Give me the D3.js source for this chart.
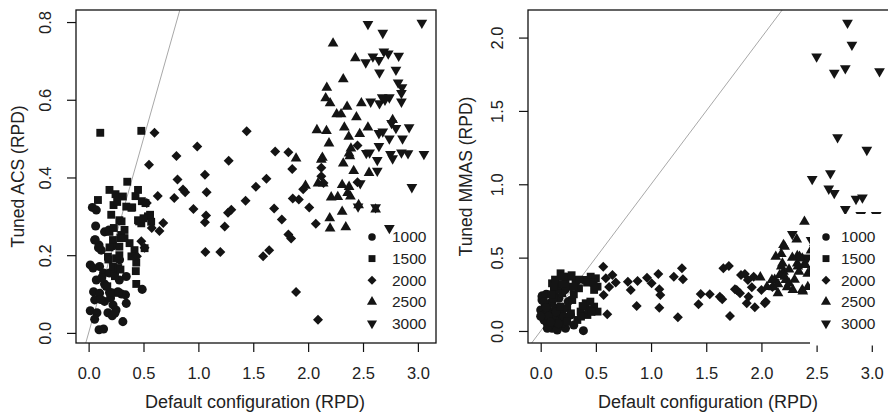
<!DOCTYPE html>
<html>
<head>
<meta charset="utf-8">
<script src="https://cdn.jsdelivr.net/npm/d3@7"></script>
<style>
  body { margin: 0; background: #fff; }
  svg text { font-family: "Liberation Sans", Arial, sans-serif; fill: #222; }
</style>
</head>
<body>
<svg id="chart" width="888" height="412"></svg>
<script>
const sizes = ["1000", "1500", "2000", "2500", "3000"];
const xTicks = [0, 0.5, 1, 1.5, 2, 2.5, 3];
const acsTicks = [0, 0.2, 0.4, 0.6, 0.8];
const mmasTicks = [0, 0.5, 1, 1.5, 2];

// ACS panel, [default, tuned] per instance size
const acs1000 = [[0.034,0.323],[0.07,0.316],[0.064,0.275],[0.145,0.26],[0.185,0.265],[0.055,0.239],[0.095,0.226],[0.115,0.213],[0.222,0.224],[0.015,0.175],[0.04,0.167],[0.10,0.171],[0.136,0.154],[0.19,0.154],[0.236,0.154],[0.07,0.136],[0.145,0.126],[0.28,0.136],[0.343,0.145],[0.045,0.106],[0.10,0.102],[0.19,0.104],[0.267,0.106],[0.336,0.098],[0.488,0.112],[0.145,0.081],[0.222,0.072],[0.055,0.085],[0.015,0.057],[0.076,0.052],[0.176,0.052],[0.25,0.059],[0.055,0.035],[0.215,0.044],[0.312,0.029],[0.095,0.008],[0.136,0.01],[0.282,0.188],[0.343,0.076],[0.24,0.051],[0.21,0.103],[0.12,0.142],[0.11,0.086],[0.06,0.24],[0.09,0.219],[0.16,0.12],[0.2,0.09],[0.3,0.1]];
const acs1500 = [[0.106,0.515],[0.48,0.52],[0.352,0.389],[0.19,0.368],[0.085,0.342],[0.245,0.357],[0.312,0.351],[0.45,0.368],[0.427,0.352],[0.227,0.329],[0.343,0.325],[0.397,0.323],[0.518,0.334],[0.54,0.30],[0.57,0.286],[0.206,0.304],[0.28,0.29],[0.45,0.29],[0.48,0.282],[0.19,0.26],[0.297,0.252],[0.327,0.244],[0.19,0.22],[0.28,0.222],[0.373,0.231],[0.418,0.213],[0.51,0.218],[0.176,0.196],[0.25,0.192],[0.434,0.181],[0.222,0.171],[0.434,0.126],[0.327,0.265],[0.222,0.239],[0.26,0.337],[0.485,0.339],[0.56,0.304],[0.46,0.287],[0.5,0.295],[0.43,0.159],[0.39,0.322],[0.30,0.287],[0.23,0.27],[0.29,0.244],[0.28,0.20],[0.39,0.197],[0.18,0.189],[0.27,0.167],[0.24,0.146],[0.2,0.103],[0.27,0.103],[0.29,0.163],[0.17,0.12]];
const acs2000 = [[0.60,0.515],[0.55,0.433],[0.63,0.352],[0.68,0.283],[0.645,0.262],[0.575,0.27],[0.53,0.334],[0.48,0.236],[0.51,0.219],[0.44,0.197],[0.80,0.455],[0.81,0.395],[0.78,0.347],[0.86,0.369],[0.88,0.362],[0.99,0.48],[0.955,0.319],[1.06,0.407],[1.075,0.362],[1.07,0.302],[1.06,0.285],[1.064,0.208],[1.276,0.443],[1.24,0.274],[1.27,0.309],[1.30,0.317],[1.20,0.208],[1.44,0.519],[1.43,0.34],[1.524,0.376],[1.62,0.397],[1.59,0.197],[1.645,0.213],[1.70,0.467],[1.69,0.32],[1.76,0.292],[1.82,0.465],[1.855,0.422],[1.86,0.346],[1.915,0.343],[1.82,0.253],[1.845,0.243],[1.89,0.105],[2.01,0.323],[2.07,0.281],[2.09,0.034],[2.12,0.425],[2.14,0.386],[2.45,0.388],[2.45,0.482],[1.955,0.37],[2.12,0.403]];
const acs2500 = [[2.227,0.745],[2.43,0.707],[2.32,0.653],[2.17,0.631],[2.16,0.604],[2.20,0.591],[2.355,0.582],[2.485,0.591],[2.26,0.563],[2.30,0.563],[2.44,0.555],[2.08,0.522],[2.167,0.52],[2.33,0.529],[2.77,0.548],[2.545,0.529],[2.47,0.512],[2.37,0.505],[2.19,0.488],[2.373,0.462],[2.13,0.451],[2.32,0.436],[1.89,0.449],[2.415,0.417],[2.555,0.412],[2.137,0.385],[2.09,0.385],[1.976,0.379],[2.31,0.381],[2.373,0.376],[2.21,0.349],[2.385,0.351],[2.31,0.312],[2.197,0.295],[2.20,0.269],[2.343,0.272],[2.46,0.329],[2.615,0.318],[2.39,0.475],[2.38,0.455],[2.12,0.446],[2.27,0.35],[2.36,0.36]];
const acs3000 = [[2.545,0.795],[3.036,0.798],[2.68,0.772],[2.59,0.711],[2.525,0.696],[2.645,0.702],[2.69,0.724],[2.73,0.719],[2.825,0.713],[2.65,0.67],[2.80,0.677],[2.82,0.644],[2.855,0.632],[2.85,0.617],[2.85,0.595],[2.57,0.595],[2.65,0.591],[2.675,0.606],[2.74,0.606],[2.80,0.527],[2.92,0.529],[2.68,0.518],[2.645,0.514],[2.74,0.50],[2.86,0.50],[2.645,0.481],[2.56,0.464],[2.63,0.445],[2.75,0.46],[2.77,0.449],[2.85,0.464],[2.91,0.462],[3.055,0.46],[2.63,0.417],[2.475,0.385],[2.945,0.375],[2.455,0.325],[2.615,0.323],[2.74,0.27],[2.53,0.463],[2.7,0.6],[2.76,0.54]];

// MMAS panel
const mmas1000 = [[0.012,0.234],[0,0.143],[0.027,0.087],[0.058,0.052],[0.103,0.018],[0.165,0.029],[0.225,0.018],[0.149,0.075],[0.088,0.12],[0.042,0.177],[0.103,0.2],[0.18,0.109],[0.27,0.109],[0.387,0.002],[0.3,0.041],[0.058,0.155],[0.119,0.087],[0.073,0.041],[0.012,0.211],[0.134,0.155],[0.165,0.223],[0.195,0.052],[0.015,0.24],[0.03,0.075],[0.06,0.018],[0.15,0.007],[0.107,0.098],[0.198,0.075],[0.05,0.25],[0.09,0.19],[0.2,0.15],[0.25,0.2],[0.12,0.26],[0.22,0.28],[0.04,0.12],[0.03,0.2],[0.07,0.1],[0.14,0.13],[0.16,0.05],[0.21,0.1],[0.09,0.06],[0.0,0.1],[0.05,0.16]];
const mmas1500 = [[0.18,0.393],[0.225,0.336],[0.103,0.325],[0.316,0.336],[0.408,0.348],[0.453,0.37],[0.5,0.359],[0.515,0.302],[0.484,0.28],[0.347,0.291],[0.195,0.257],[0.286,0.211],[0.408,0.189],[0.484,0.166],[0.515,0.132],[0.362,0.132],[0.332,0.075],[0.24,0.063],[0.423,0.109],[0.149,0.28],[0.256,0.302],[0.18,0.166],[0.24,0.155],[0.119,0.223],[0.2,0.37],[0.15,0.31],[0.3,0.25],[0.43,0.143],[0.365,0.098],[0.274,0.12],[0.32,0.348],[0.25,0.37],[0.13,0.35],[0.45,0.2],[0.35,0.35],[0.42,0.33],[0.48,0.33],[0.38,0.17],[0.46,0.13],[0.3,0.3],[0.28,0.38],[0.2,0.32],[0.12,0.3],[0.1,0.25]];
const mmas2000 = [[0.567,0.438],[0.65,0.382],[0.603,0.114],[0.79,0.336],[0.816,0.28],[0.878,0.34],[0.87,0.17],[0.963,0.363],[1.005,0.325],[1.066,0.389],[1.075,0.284],[1.084,0.245],[1.075,0.159],[1.206,0.37],[1.28,0.427],[1.289,0.352],[1.243,0.093],[1.45,0.252],[1.43,0.182],[1.532,0.25],[1.623,0.234],[1.645,0.216],[1.655,0.427],[1.705,0.443],[1.715,0.102],[1.776,0.28],[1.815,0.382],[1.85,0.389],[1.76,0.284],[1.806,0.257],[1.913,0.298],[1.883,0.234],[1.867,0.189],[1.94,0.162],[2.03,0.189],[1.93,0.37],[1.877,0.348],[0.68,0.33],[0.57,0.245],[0.59,0.36],[0.62,0.3],[2.0,0.28],[2.04,0.2],[2.1,0.3]];
const mmas2500 = [[2.39,0.745],[2.32,0.625],[2.20,0.586],[2.18,0.525],[2.325,0.511],[2.37,0.495],[2.19,0.461],[2.325,0.461],[2.385,0.45],[2.20,0.404],[2.34,0.404],[2.166,0.382],[2.095,0.348],[2.22,0.348],[1.99,0.366],[2.11,0.298],[2.233,0.298],[2.15,0.257],[2.285,0.28],[2.37,0.28],[2.21,0.575],[2.13,0.507],[2.345,0.507],[2.33,0.44],[2.18,0.44],[2.12,0.35],[2.25,0.325],[2.375,0.27],[2.21,0.37],[2.40,0.45],[2.42,0.39],[2.45,0.55],[2.5,0.48],[2.48,0.6],[2.45,0.4],[2.25,0.42],[2.28,0.5],[2.15,0.32],[2.3,0.35],[2.05,0.3],[2.42,0.3]];
const mmas3000 = [[2.78,2.10],[2.82,1.95],[2.50,1.87],[2.66,1.76],[2.76,1.79],[3.07,1.77],[2.69,1.32],[2.955,1.234],[2.46,1.036],[2.625,1.075],[2.61,0.97],[2.66,0.94],[2.857,0.90],[2.915,0.91],[2.76,0.83],[2.90,0.79],[3.04,0.79],[2.28,0.66],[2.45,0.62],[2.42,0.5],[2.46,0.42],[2.6,0.5],[2.7,0.6]];

const svg = d3.select("#chart");
const ink = "#141414";

// marker per size: circle, square, diamond, triangle up, triangle down
const shapes = [
  { type: d3.symbolCircle, size: 64, key: 44, rot: 0 },
  { type: d3.symbolSquare, size: 62, key: 48, rot: 0 },
  { type: d3.symbolSquare, size: 50, key: 40, rot: 45 },
  { type: d3.symbolTriangle, size: 50, key: 44, rot: 0 },
  { type: d3.symbolTriangle, size: 50, key: 44, rot: 180 }
];

function drawPanel(opts) {
  const { left, right, top, bottom, yDomain, yTicks, groups, yTitle, titleX, legend } = opts;
  const x = d3.scaleLinear().domain([-0.115, 3.165]).range([left, right]);
  const y = d3.scaleLinear().domain(yDomain).range([bottom, top]);
  const g = svg.append("g");
  const clipId = "clip" + left;

  g.append("clipPath").attr("id", clipId)
    .append("rect")
    .attr("x", left).attr("y", top)
    .attr("width", right - left).attr("height", bottom - top);

  const plot = g.append("g").attr("clip-path", `url(#${clipId})`);

  // y = x reference line
  plot.append("line")
    .attr("x1", x(-0.2)).attr("y1", y(-0.2))
    .attr("x2", x(3)).attr("y2", y(3))
    .attr("stroke", "#a8a8a8").attr("stroke-width", 1);

  groups.forEach((pts, i) => {
    const s = shapes[i];
    plot.selectAll(null)
      .data(pts)
      .enter().append("path")
      .attr("d", d3.symbol().type(s.type).size(s.size))
      .attr("transform", d => `translate(${x(d[0])},${y(d[1])}) rotate(${s.rot})`)
      .attr("fill", ink);
  });

  // frame
  g.append("rect")
    .attr("x", left).attr("y", top)
    .attr("width", right - left).attr("height", bottom - top)
    .attr("fill", "none").attr("stroke", "#111").attr("stroke-width", 1.3);

  // axes
  const xAxis = g.append("g")
    .attr("transform", `translate(0,${bottom})`)
    .call(d3.axisBottom(x).tickValues(xTicks).tickSize(9).tickFormat(d3.format(".1f")));
  xAxis.select(".domain").remove();
  xAxis.selectAll("line").attr("stroke", "#111").attr("stroke-width", 1.2);
  xAxis.selectAll("text")
    .attr("y", 30).attr("dy", "0.35em")
    .style("font-size", "16.5px").style("fill", "#222");

  const yAxis = g.append("g")
    .attr("transform", `translate(${left},0)`)
    .call(d3.axisLeft(y).tickValues(yTicks).tickSize(9).tickFormat(d3.format(".1f")));
  yAxis.select(".domain").remove();
  yAxis.selectAll("line").attr("stroke", "#111").attr("stroke-width", 1.2);
  yAxis.selectAll("text")
    .attr("x", 0).attr("dy", "0.35em")
    .attr("text-anchor", "middle")
    .attr("transform", "translate(-31,0) rotate(-90)")
    .style("font-size", "16.5px").style("fill", "#222");

  // titles
  g.append("text")
    .attr("x", (left + right) / 2 - 1).attr("y", 402).attr("dy", "0.35em")
    .attr("text-anchor", "middle")
    .style("font-size", "18px")
    .text("Default configuration (RPD)");

  g.append("text")
    .attr("transform", `translate(${titleX},${(top + bottom) / 2}) rotate(-90)`)
    .attr("dy", "0.35em")
    .attr("text-anchor", "middle")
    .style("font-size", "17.5px")
    .text(yTitle);

  // legend, bottom right
  const lg = g.append("g");
  if (legend.bg) {
    lg.append("rect")
      .attr("x", legend.symX - 16).attr("y", 214)
      .attr("width", 100).attr("height", bottom - 214 + 2.5)
      .attr("fill", "#fff");
  }
  sizes.forEach((label, i) => {
    const ly = 237 + i * 21.6;
    const s = shapes[i];
    lg.append("path")
      .attr("d", d3.symbol().type(s.type).size(s.key))
      .attr("transform", `translate(${legend.symX},${ly}) rotate(${s.rot})`)
      .attr("fill", ink);
    lg.append("text")
      .attr("x", legend.textX).attr("y", ly).attr("dy", "0.35em")
      .style("font-size", "15.5px")
      .text(label);
  });
}

drawPanel({
  left: 76, right: 436, top: 10, bottom: 343,
  yDomain: [-0.026, 0.831], yTicks: acsTicks,
  groups: [acs1000, acs1500, acs2000, acs2500, acs3000],
  yTitle: "Tuned ACS (RPD)", titleX: 18,
  legend: { symX: 372, textX: 392, bg: false }
});

drawPanel({
  left: 528, right: 890, top: 10, bottom: 343,
  yDomain: [-0.082, 2.188], yTicks: mmasTicks,
  groups: [mmas1000, mmas1500, mmas2000, mmas2500, mmas3000],
  yTitle: "Tuned MMAS (RPD)", titleX: 466,
  legend: { symX: 826, textX: 841, bg: true }
});
</script>
</body>
</html>
